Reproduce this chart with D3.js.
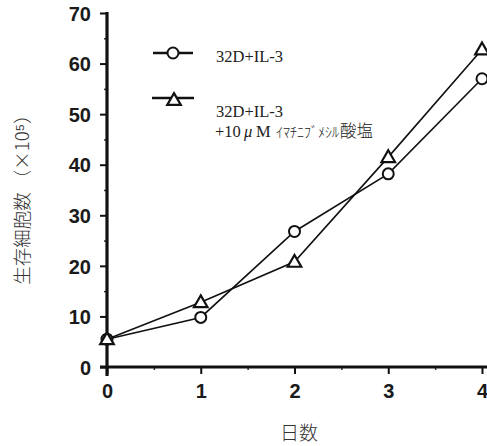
<!DOCTYPE html>
<html><head><meta charset="utf-8">
<script src="https://cdn.jsdelivr.net/npm/d3@7"></script>
<style>
html,body{margin:0;padding:0;background:#fff;}
svg{display:block;}
</style></head>
<body>
<svg id="chart" width="487" height="446"></svg>
<script>
const days = [0, 1, 2, 3, 4];
const seriesControl = [5.5, 9.8, 26.8, 38.2, 57];
const seriesImatinib = [5.5, 12.8, 20.8, 41.5, 62.8];
const seriesNames = ["32D+IL-3", "32D+IL-3"];
const legendSubParts = ["+10", "\u03bc", "M", "\uFF72\uFF8F\uFF81\uFF86\uFF8C\uFF9E\uFF92\uFF7C\uFF99", "酸塩"];
const yMajor = [0, 10, 20, 30, 40, 50, 60, 70];
const yMinor = [5, 15, 25, 35, 45, 55, 65];
const xMajor = [0, 1, 2, 3, 4];
const xMinor = [0.5, 1.5, 2.5, 3.5];
const yTitle = "生存細胞数 （×10⁵）";
const xTitle = "日数";

const svg = d3.select("#chart");
const x = d3.scaleLinear().domain([0, 4]).range([107, 482]);
const y = d3.scaleLinear().domain([0, 70]).range([367, 13]);

const tickFont = "'Liberation Sans', Arial, sans-serif";

// Y axis
const gy = svg.append("g").attr("transform", `translate(${x(0)},0)`);
gy.call(d3.axisLeft(y).tickValues(yMajor).tickSize(7).tickSizeOuter(0).tickPadding(9).tickFormat(d3.format("d")));
gy.select(".domain").remove();
gy.selectAll(".tick line").attr("stroke", "#111").attr("stroke-width", 2);
gy.selectAll(".tick text").attr("font-family", tickFont).attr("font-size", 20).attr("font-weight", "bold").attr("fill", "#1a1a1a").attr("dy", "0.36em");
const gy2 = svg.append("g").attr("transform", `translate(${x(0)},0)`);
gy2.call(d3.axisLeft(y).tickValues(yMinor).tickSize(3).tickSizeOuter(0).tickFormat(""));
gy2.select(".domain").remove();
gy2.selectAll(".tick line").attr("stroke", "#333").attr("stroke-width", 1.5);
svg.append("line").attr("x1", x(0)).attr("x2", x(0)).attr("y1", y(70) - 1).attr("y2", y(0) + 9)
  .attr("stroke", "#111").attr("stroke-width", 3.2);

// X axis
const gx = svg.append("g").attr("transform", `translate(0,${y(0)})`);
gx.call(d3.axisBottom(x).tickValues(xMajor).tickSize(7).tickSizeOuter(0).tickPadding(10).tickFormat(d3.format("d")));
gx.select(".domain").remove();
gx.selectAll(".tick line").attr("stroke", "#111").attr("stroke-width", 2);
gx.selectAll(".tick text").attr("font-family", tickFont).attr("font-size", 20).attr("font-weight", "bold").attr("fill", "#1a1a1a");
const gx2 = svg.append("g").attr("transform", `translate(0,${y(0)})`);
gx2.call(d3.axisBottom(x).tickValues(xMinor).tickSize(3).tickSizeOuter(0).tickFormat(""));
gx2.select(".domain").remove();
gx2.selectAll(".tick line").attr("stroke", "#333").attr("stroke-width", 1.5);
svg.append("line").attr("x1", x(0) - 7).attr("x2", 487).attr("y1", y(0)).attr("y2", y(0))
  .attr("stroke", "#111").attr("stroke-width", 3.2);

// Lines
const line = d3.line().x((d, i) => x(days[i])).y(d => y(d));
svg.append("path").datum(seriesControl).attr("d", line).attr("fill", "none").attr("stroke", "#111").attr("stroke-width", 1.6);
svg.append("path").datum(seriesImatinib).attr("d", line).attr("fill", "none").attr("stroke", "#111").attr("stroke-width", 1.6);

const tri = d3.symbol().type(d3.symbolTriangle).size(80);
// Markers
svg.selectAll(".circ").data(seriesControl).enter().append("circle")
  .attr("cx", (d, i) => x(days[i])).attr("cy", d => y(d)).attr("r", 5.5)
  .attr("fill", "#fff").attr("stroke", "#111").attr("stroke-width", 2);
svg.selectAll(".tri").data(seriesImatinib).enter().append("path")
  .attr("d", tri).attr("transform", (d, i) => `translate(${x(days[i])},${y(d) + 1})`)
  .attr("fill", "#fff").attr("stroke", "#111").attr("stroke-width", 2.2);

// Legend
const lg = svg.append("g");
lg.append("line").attr("x1", 153).attr("x2", 193).attr("y1", 53).attr("y2", 53).attr("stroke", "#111").attr("stroke-width", 2.6);
lg.append("circle").attr("cx", 173).attr("cy", 53).attr("r", 5.5).attr("fill", "#fff").attr("stroke", "#111").attr("stroke-width", 2);
lg.append("line").attr("x1", 152).attr("x2", 194).attr("y1", 98).attr("y2", 98).attr("stroke", "#111").attr("stroke-width", 2.6);
lg.append("path").attr("d", tri).attr("transform", "translate(174,101)").attr("fill", "#fff").attr("stroke", "#111").attr("stroke-width", 2.2);
const serif = "'Liberation Serif', 'Times New Roman', serif";
const cjk = "'Noto Sans CJK JP', sans-serif";
lg.append("text").attr("x", 216).attr("y", 62).attr("font-family", serif).attr("font-size", 16.5).attr("fill", "#222").text(seriesNames[0]);
lg.append("text").attr("x", 216).attr("y", 117).attr("font-family", serif).attr("font-size", 16.5).attr("fill", "#222").text(seriesNames[1]);
const sub = lg.append("text").attr("y", 137).attr("font-family", serif).attr("font-size", 16.5).attr("fill", "#222");
sub.append("tspan").attr("x", 215).text(legendSubParts[0]);
sub.append("tspan").attr("x", 244).attr("font-style", "italic").text(legendSubParts[1]);
sub.append("tspan").attr("x", 256).text(legendSubParts[2]);
sub.append("tspan").attr("x", 276).attr("font-family", cjk).attr("font-size", 14).attr("font-weight", 300).text(legendSubParts[3]);
sub.append("tspan").attr("dx", 1).attr("font-family", cjk).attr("font-size", 16.5).attr("font-weight", 300).text(legendSubParts[4]);

// Axis titles
svg.append("text").attr("transform", "translate(29,195) rotate(-90)").attr("text-anchor", "middle")
  .attr("font-family", cjk).attr("font-weight", 300).attr("font-size", 18.5).attr("fill", "#333").text(yTitle);
svg.append("text").attr("x", 299).attr("y", 440).attr("text-anchor", "middle")
  .attr("font-family", cjk).attr("font-weight", 300).attr("font-size", 19).attr("fill", "#333").text(xTitle);
</script>
</body></html>
